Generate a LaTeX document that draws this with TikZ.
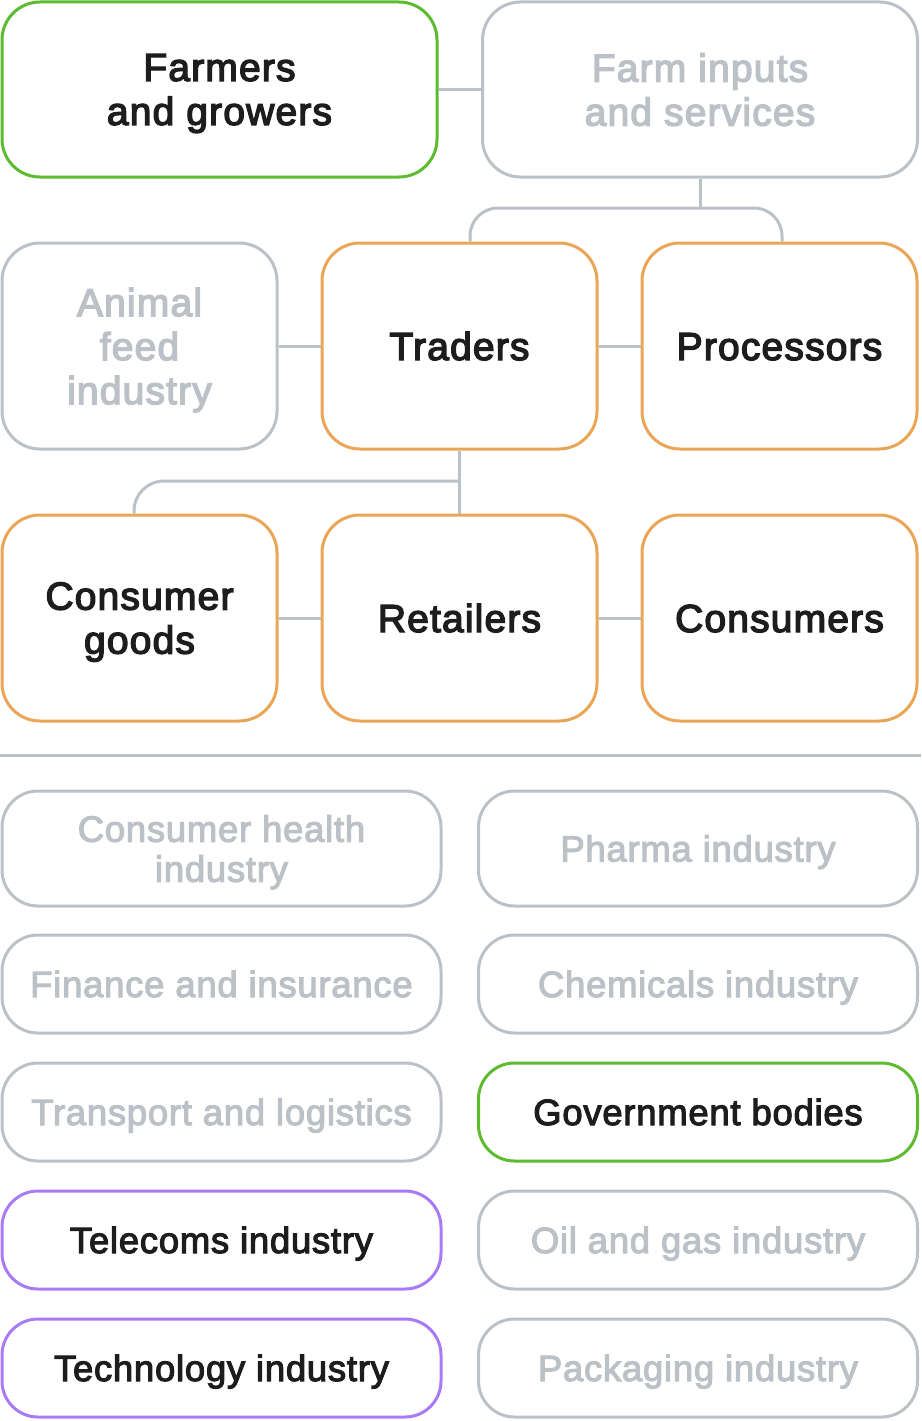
\documentclass[tikz,border=0pt]{standalone}
\usepackage{fontspec}
\setmainfont{Liberation Sans}
\newfontfamily\topfont[LetterSpace=3,FakeBold=3.5]{Liberation Sans}
\newfontfamily\botfont[LetterSpace=2,FakeBold=3]{Liberation Sans}
\definecolor{cgreen}{HTML}{5DBB2F}
\definecolor{corange}{HTML}{EAA555}
\definecolor{cpurple}{HTML}{A97AF8}
\definecolor{cgray}{HTML}{BCC1C8}
\definecolor{ctext}{HTML}{1D1D1F}
\begin{document}
\begin{tikzpicture}[x=1pt,y=-1pt,
  box/.style={draw, line width=3pt, rounded corners=38pt, fill=white, align=center, inner sep=0pt},
  bigbox/.style={box, minimum width=435pt, minimum height=175pt},
  midbox/.style={box, minimum width=275pt, minimum height=206pt},
  lowbox/.style={box, rounded corners=36pt, minimum width=439pt, minimum height=98pt},
  toptext/.style={font=\topfont\fontsize{39}{44}\selectfont},
  bottext/.style={font=\botfont\fontsize{36.5}{40}\selectfont},
  mline/.style={text depth=-4pt},
  topone/.style={text height=28pt, text depth=-4pt},
  botone/.style={text height=26pt, text depth=-3pt},
  active/.style={text=ctext},
  passive/.style={draw=cgray, text=cgray},
  green/.style={draw=cgreen},
  orange/.style={draw=corange},
  purple/.style={draw=cpurple},
  conn/.style={draw=cgray, line width=3pt}]
\useasboundingbox (0,0) rectangle (921,1421);

\coordinate (j1) at (700,208);
\coordinate (j2) at (459.5,481);

% top row
\node[bigbox, toptext, mline, green, active] (farmers) at (219.5,89.5) {Farmers\\and growers};
\node[bigbox, toptext, mline, passive] (inputs) at (700,89.5) {Farm inputs\\and services};

% middle rows
\node[midbox, toptext, mline, passive] (animal) at (139.5,346) {Animal\\feed\\industry};
\node[midbox, toptext, topone, orange, active] (traders) at (459.5,346) {Traders};
\node[midbox, toptext, topone, orange, active] (proc) at (779.5,346) {Processors};

\node[midbox, toptext, mline, orange, active] (cgoods) at (139.5,618) {Consumer\\goods};
\node[midbox, toptext, topone, orange, active] (retail) at (459.5,618) {Retailers};
\node[midbox, toptext, topone, orange, active] (cons) at (779.5,618) {Consumers};

\coordinate (tA) at ([xshift=10.5pt]traders.north);
\coordinate (pA) at ([xshift=2.5pt]proc.north);
\coordinate (cA) at ([xshift=-5.5pt]cgoods.north);

\path[conn] (farmers.east) -- (inputs.west);
\path[conn] (inputs.south) -- (j1);
\path[conn, rounded corners=28pt] (tA) |- (j1 -| pA) -- (pA);
\path[conn] (animal.east) -- (traders.west);
\path[conn] (traders.east) -- (proc.west);
\path[conn] (traders.south) -- (retail.north);
\path[conn, rounded corners=30pt] (j2) -| (cA);
\path[conn] (cgoods.east) -- (retail.west);
\path[conn] (retail.east) -- (cons.west);

% separator
\coordinate (sepL) at (0,755);
\coordinate (sepR) at (921,755);
\path[conn] (sepL) -- (sepR);

% lower grid
\node[lowbox, bottext, mline, passive, minimum height=115pt] (health) at (221.5,848.5) {Consumer health\\industry};
\node[lowbox, bottext, botone, passive, minimum height=115pt] (pharma) at (698,848.5) {Pharma industry};
\node[lowbox, bottext, botone, passive] (finance) at (221.5,984) {Finance and insurance};
\node[lowbox, bottext, botone, passive] (chem) at (698,984) {Chemicals industry};
\node[lowbox, bottext, botone, passive] (transport) at (221.5,1112) {Transport and logistics};
\node[lowbox, bottext, botone, green, active] (gov) at (698,1112) {Government bodies};
\node[lowbox, bottext, botone, purple, active] (telecom) at (221.5,1240) {Telecoms industry};
\node[lowbox, bottext, botone, passive] (oil) at (698,1240) {Oil and gas industry};
\node[lowbox, bottext, botone, purple, active] (tech) at (221.5,1368) {Technology industry};
\node[lowbox, bottext, botone, passive] (pack) at (698,1368) {Packaging industry};
\end{tikzpicture}
\end{document}
